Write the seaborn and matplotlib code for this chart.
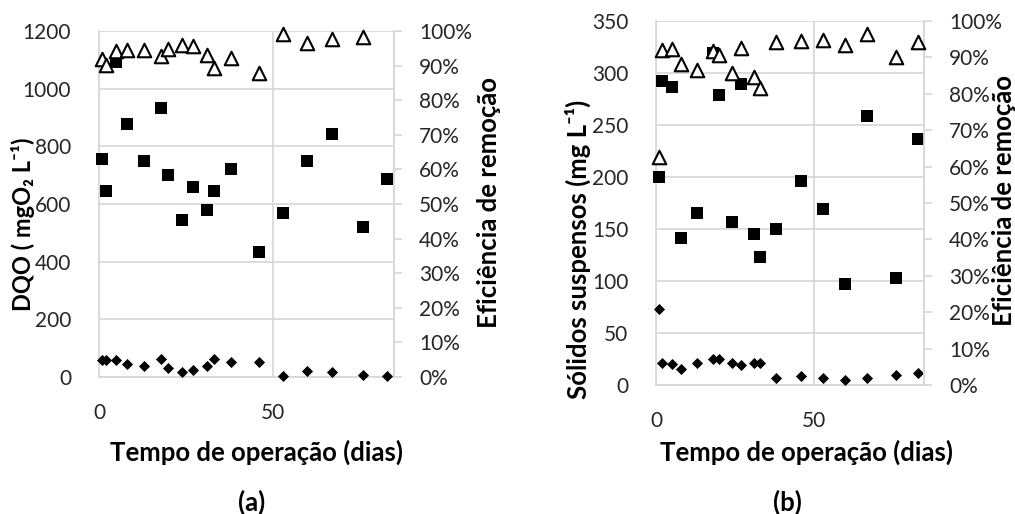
import numpy as np
import pandas as pd
import matplotlib
matplotlib.use("Agg")
import matplotlib.pyplot as plt
import seaborn as sns
from matplotlib.ticker import PercentFormatter, MultipleLocator

# Dados
dias = [1, 2, 5, 8, 13, 18, 20, 24, 27, 31, 33, 38, 46, 53, 60, 67, 76, 83]

# (a) DQO
dqo_afluente = [755, 644, 1094, 876, 748, 932, 700, 543, 658, 578, 644, 720, 432, 568, 748, 843, 519, 686]
dqo_efluente = [59, 59, 58, 44, 38, 64, 32, 18, 24, 38, 64, 51, 51, 2, 22, 16, 7, 2]
dqo_eficiencia = [91.8, 90.2, 94.3, 94.5, 94.5, 92.8, 94.7, 96.0, 95.8, 93.1, 89.4, 92.3, 87.8, 99.1, 96.4, 97.6, 98.4, np.nan]

# (b) Sólidos suspensos
ss_afluente = [200, 292, 287, 141, 165, 319, 279, 157, 289, 145, 123, 150, 196, 169, 97, 259, 103, 237]
ss_efluente = [73, 21, 20, 15, 21, 25, 25, 21, 19, 21, 21, 7, 9, 7, 5, 7, 10, 12]
ss_eficiencia = [62.7, 92.0, 92.4, 88.3, 86.5, 91.8, 90.6, 85.7, 92.6, 84.5, 81.6, 94.2, 94.4, 94.9, 93.5, 96.5, 90.0, 94.2]

sns.set_style("white")
plt.rcParams['font.family'] = ['Lato', 'Noto Sans', 'DejaVu Sans']

GRID = "#d9d9d9"
TXT = "#262626"

fig = plt.figure(figsize=(10.15, 5.14), dpi=100)


def painel(rect, afluente, efluente, eficiencia, ymax, ystep):
    ax = fig.add_axes(rect)
    df = pd.DataFrame({"dia": dias, "afl": afluente, "efl": efluente, "ef": eficiencia})

    sns.scatterplot(data=df, x="dia", y="afl", marker="s", color="black", s=64,
                    linewidth=0, ax=ax, clip_on=False, zorder=3, legend=False)
    sns.scatterplot(data=df, x="dia", y="efl", marker="D", color="black", s=32,
                    linewidth=0, ax=ax, clip_on=False, zorder=3, legend=False)

    ax.set_xlim(0, 85)
    ax.set_ylim(0, ymax)
    ax.xaxis.set_major_locator(MultipleLocator(50))
    ax.yaxis.set_major_locator(MultipleLocator(ystep))
    ax.grid(True, color=GRID, linewidth=1.3)
    ax.set_axisbelow(True)
    for s in ax.spines.values():
        s.set_color(GRID)
        s.set_linewidth(1.3)
    ax.spines["top"].set_visible(False)
    ax.tick_params(axis="both", length=0, labelsize=15, colors=TXT)
    ax.tick_params(axis="y", pad=20)
    ax.tick_params(axis="x", pad=19)
    ax.set_xlabel("")
    ax.set_ylabel("")

    ax2 = ax.twinx()
    sns.scatterplot(data=df, x="dia", y="ef", marker="^", color="white", edgecolor="black",
                    s=95, linewidth=1.5, ax=ax2, clip_on=False, zorder=4, legend=False)
    ax2.set_ylim(0, 100)
    ax2.yaxis.set_major_locator(MultipleLocator(10))
    ax2.yaxis.set_major_formatter(PercentFormatter(decimals=0))
    for s in ax2.spines.values():
        s.set_visible(False)
    ax2.spines["right"].set_visible(True)
    ax2.spines["right"].set_color(GRID)
    ax2.spines["right"].set_linewidth(1.3)
    ax2.tick_params(axis="y", length=6, width=1.3, color=GRID, labelsize=15,
                    labelcolor=TXT, pad=12)
    ax2.set_ylabel("")
    return ax, ax2


# painel (a)
painel([99 / 1015, 137 / 514, 295 / 1015, 346 / 514],
       dqo_afluente, dqo_efluente, dqo_eficiencia, 1200, 200)
# painel (b)
painel([656 / 1015, 129 / 514, 268 / 1015, 364 / 514],
       ss_afluente, ss_efluente, ss_eficiencia, 350, 50)

lab = dict(fontweight=700, color="black")
fig.text(23 / 1015, 1 - 224 / 514, "DQO ( mgO₂ L⁻¹)", rotation=90, fontsize=17,
         ha="center", va="center", **lab)
fig.text(489 / 1015, 1 - 203 / 514, "Eficiência de remoção", rotation=90, fontsize=18.5,
         ha="center", va="center", **lab)
fig.text(257 / 1015, 1 - 452 / 514, "Tempo de operação (dias)", fontsize=18.5,
         ha="center", va="center", **lab)
fig.text(252 / 1015, 1 - 502 / 514, "(a)", fontsize=18.5, ha="center", va="center", **lab)

fig.text(578 / 1015, 1 - 249 / 514, "Sólidos suspensos (mg L⁻¹)", rotation=90, fontsize=18.5,
         ha="center", va="center", **lab)
fig.text(1004 / 1015, 1 - 200 / 514, "Eficiência de remoção", rotation=90, fontsize=18.5,
         ha="center", va="center", **lab)
fig.text(806 / 1015, 1 - 452 / 514, "Tempo de operação (dias)", fontsize=18.5,
         ha="center", va="center", **lab)
fig.text(787 / 1015, 1 - 502 / 514, "(b)", fontsize=18.5, ha="center", va="center", **lab)

fig.savefig("out.png", dpi=100)
